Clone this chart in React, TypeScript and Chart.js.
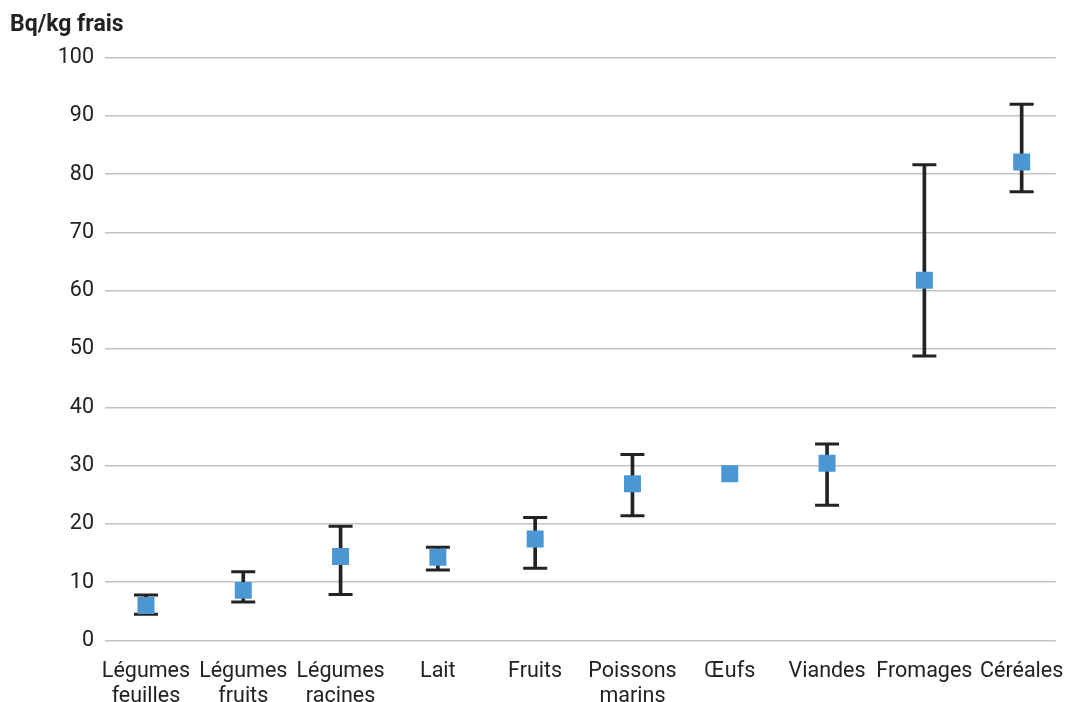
import React, { useEffect, useRef } from "react";
import { Chart, registerables } from "chart.js";

Chart.register(...registerables);

const categories: string[][] = [
  ["Légumes", "feuilles"],
  ["Légumes", "fruits"],
  ["Légumes", "racines"],
  ["Lait"],
  ["Fruits"],
  ["Poissons", "marins"],
  ["Œufs"],
  ["Viandes"],
  ["Fromages"],
  ["Céréales"],
];
const means: number[] = [6.0, 8.6, 14.4, 14.3, 17.4, 26.9, 28.6, 30.4, 61.8, 82.1];
const highs: (number | null)[] = [7.8, 11.8, 19.6, 16.0, 21.1, 31.9, null, 33.7, 81.6, 92.0];
const lows: (number | null)[] = [4.5, 6.6, 7.9, 12.1, 12.4, 21.4, null, 23.2, 48.8, 77.0];
const yTicks: number[] = [0, 10, 20, 30, 40, 50, 60, 70, 80, 90, 100];
const yTitle = "Bq/kg frais";

export default function App() {
  const ref = useRef<HTMLCanvasElement | null>(null);
  useEffect(() => {
    if (!ref.current) return;
    const font = "Roboto";
    const pts = (arr: (number | null)[]) => arr.map((v, i) => ({ x: i, y: v }));
    const ranges = highs.map((h, i) => ({ x: i, y: h === null || lows[i] === null ? null : [lows[i], h] }));
    const chart = new Chart(ref.current, {
      type: "bar",
      data: {
        datasets: [
          {
            type: "line",
            data: pts(means),
            showLine: false,
            pointStyle: "rect",
            pointRadius: 12,
            pointHoverRadius: 12,
            backgroundColor: "#4a97d3",
            borderColor: "#4a97d3",
            borderWidth: 0,
            order: 0,
          } as any,
          {
            type: "line",
            data: pts(highs),
            showLine: false,
            pointStyle: "line",
            pointRadius: 12,
            pointHoverRadius: 12,
            borderColor: "#232323",
            borderWidth: 3,
            order: 1,
          } as any,
          {
            type: "line",
            data: pts(lows),
            showLine: false,
            pointStyle: "line",
            pointRadius: 12,
            pointHoverRadius: 12,
            borderColor: "#232323",
            borderWidth: 3,
            order: 1,
          } as any,
          {
            type: "bar",
            data: ranges as any,
            backgroundColor: "#232323",
            barThickness: 3,
            order: 2,
          } as any,
        ],
      },
      options: {
        animation: false,
        responsive: true,
        maintainAspectRatio: false,
        layout: { padding: { left: 10, right: 19, top: 0, bottom: 0 } },
        plugins: {
          legend: { display: false },
          tooltip: { enabled: false },
          title: {
            display: true,
            text: yTitle,
            align: "start",
            color: "#222222",
            font: { family: font, size: 23, weight: "bold", lineHeight: 1.2 },
            padding: { top: 11, bottom: 19 },
          },
        },
        scales: {
          x: {
            type: "linear",
            offset: false,
            min: -0.421,
            max: 9.35,
            grid: { display: false },
            border: { display: false },
            afterBuildTicks: (scale: any) => {
              scale.ticks = categories.map((_, i) => ({ value: i }));
            },
            afterFit: (scale: any) => {
              scale.height = 61.5;
            },
            ticks: {
              color: "#222222",
              font: { family: font, size: 21.5, lineHeight: 1.15 },
              maxRotation: 0,
              autoSkip: false,
              padding: 11,
              callback: (v: any) => categories[Math.round(Number(v))] ?? "",
            },
          },
          y: {
            min: 0,
            max: 100,
            border: { display: false },
            grid: { color: "#c2c2c2", lineWidth: 1.5, drawTicks: false },
            afterFit: (scale: any) => {
              scale.width = 95;
            },
            afterBuildTicks: (scale: any) => {
              scale.ticks = yTicks.map((v) => ({ value: v }));
            },
            ticks: {
              color: "#222222",
              font: { family: font, size: 21.5 },
              padding: 11,
            },
          },
        },
      },
    });
    return () => chart.destroy();
  }, []);
  return (
    <div style={{ position: "fixed", left: 0, top: 0, width: 1075, height: 702, background: "#fff" }}>
      <canvas ref={ref} />
    </div>
  );
}
